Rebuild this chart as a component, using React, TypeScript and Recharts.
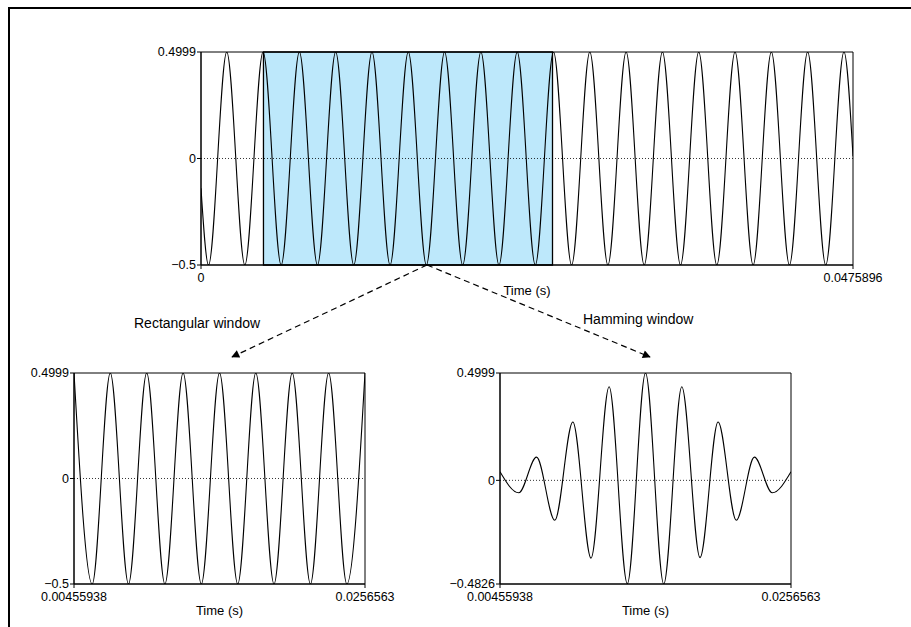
import React from 'react';
import { LineChart, Line, XAxis, YAxis, ReferenceArea, ReferenceLine } from 'recharts';

const FONT = '"Liberation Sans", Arial, Helvetica, sans-serif';

// full signal: start, every trough / peak, end
const fullTimes = [
  0, 0.00055, 0.00188, 0.0032, 0.00453, 0.00585, 0.00718, 0.0085, 0.00983, 0.01115,
  0.01248, 0.0138, 0.01513, 0.01645, 0.01778, 0.0191, 0.02043, 0.02175, 0.02308, 0.0244,
  0.02573, 0.02705, 0.02838, 0.0297, 0.03103, 0.03235, 0.03368, 0.035, 0.03633, 0.03765,
  0.03898, 0.0403, 0.04163, 0.04295, 0.04428, 0.0456, 0.04693, 0.0475896,
];
const fullValues = [
  -0.14, -0.5, 0.4999, -0.5, 0.4999, -0.5, 0.4999, -0.5, 0.4999, -0.5,
  0.4999, -0.5, 0.4999, -0.5, 0.4999, -0.5, 0.4999, -0.5, 0.4999, -0.5,
  0.4999, -0.5, 0.4999, -0.5, 0.4999, -0.5, 0.4999, -0.5, 0.4999, -0.5,
  0.4999, -0.5, 0.4999, -0.5, 0.4999, -0.5, 0.4999, 0.01,
];
const fullXTicks = [0, 0.0475896];
const fullYTicks = [-0.5, 0, 0.4999];

// selected window
const windowStart = 0.00455938;
const windowEnd = 0.0256563;
const windowXTicks = [windowStart, windowEnd];

// rectangular window
const rectTimes = [
  0.00455938, 0.00588, 0.00719, 0.00851, 0.00983, 0.01115, 0.01247, 0.01379, 0.01511,
  0.01643, 0.01774, 0.01906, 0.02038, 0.0217, 0.02302, 0.02434, 0.0256563,
];
const rectValues = [
  0.4999, -0.5, 0.4999, -0.5, 0.4999, -0.5, 0.4999, -0.5, 0.4999,
  -0.5, 0.4999, -0.5, 0.4999, -0.5, 0.4999, -0.5, 0.4999,
];
const rectYTicks = [-0.5, 0, 0.4999];

// hamming window
const hammTimes = [
  0.00455938, 0.00592, 0.00721, 0.00853, 0.00984, 0.01116, 0.01247, 0.01379, 0.01511,
  0.01643, 0.01774, 0.01906, 0.02037, 0.02169, 0.023, 0.0243, 0.0256563,
];
const hammValues = [
  0.04, -0.058, 0.108, -0.186, 0.272, -0.362, 0.436, -0.481, 0.4999,
  -0.4826, 0.436, -0.36, 0.272, -0.186, 0.108, -0.058, 0.04,
];
const hammYTicks = [-0.4826, 0, 0.4999];

const fmt = (v: number) => (v < 0 ? '\u2212' + Math.abs(v) : String(v));

interface Box {
  left: number;
  top: number;
  width: number;
  height: number;
  yAxisWidth: number;
  xAxisHeight: number;
  labelOffset: number;
  margin: { top: number; right: number; bottom: number; left: number };
}

interface PanelProps {
  times: number[];
  values: number[];
  xTicks: number[];
  yTicks: number[];
  box: Box;
  highlight?: [number, number];
}

function Panel({ times, values, xTicks, yTicks, box, highlight }: PanelProps) {
  const data = times.map((t, i) => ({ t, v: values[i] }));
  const x0 = xTicks[0];
  const x1 = xTicks[xTicks.length - 1];
  const y0 = yTicks[0];
  const y1 = yTicks[yTicks.length - 1];
  const tick = { fill: '#000', fontSize: 12.5, fontFamily: FONT };

  return (
    <div style={{ position: 'absolute', left: box.left, top: box.top }}>
      <LineChart width={box.width} height={box.height} data={data} margin={box.margin}>
        {highlight && (
          <ReferenceArea
            x1={highlight[0]}
            x2={highlight[1]}
            y1={y0}
            y2={y1}
            fill="#bde8fb"
            fillOpacity={1}
            stroke="#000"
            strokeWidth={1.3}
          />
        )}
        <ReferenceLine y={0} stroke="#000" strokeWidth={0.8} strokeDasharray="1 2" />
        <XAxis
          dataKey="t"
          type="number"
          domain={[x0, x1]}
          ticks={xTicks}
          interval={0}
          allowDataOverflow
          tickFormatter={fmt}
          tick={tick}
          tickSize={4}
          tickMargin={4}
          tickLine={{ stroke: '#000' }}
          axisLine={{ stroke: '#000' }}
          height={box.xAxisHeight}
          label={{
            value: 'Time (s)',
            position: 'insideBottom',
            offset: box.labelOffset,
            fill: '#000',
            fontSize: 13,
            fontFamily: FONT,
          }}
        />
        <YAxis
          type="number"
          domain={[y0, y1]}
          ticks={yTicks}
          interval={0}
          allowDataOverflow
          tickFormatter={fmt}
          tick={tick}
          tickSize={4}
          tickMargin={1}
          tickLine={{ stroke: '#000' }}
          axisLine={{ stroke: '#000' }}
          width={box.yAxisWidth}
        />
        <Line
          type="monotone"
          dataKey="v"
          stroke="#000"
          strokeWidth={1.1}
          dot={false}
          isAnimationActive={false}
        />
        <ReferenceArea x1={x0} x2={x1} y1={y0} y2={y1} fill="none" stroke="#000" strokeWidth={1} />
      </LineChart>
    </div>
  );
}

const topBox: Box = {
  left: 140, top: 40, width: 760, height: 270,
  yAxisWidth: 55, xAxisHeight: 40, labelOffset: 10,
  margin: { top: 12, right: 47, bottom: 5, left: 6 },
};
const leftBox: Box = {
  left: 20, top: 360, width: 390, height: 262,
  yAxisWidth: 44, xAxisHeight: 36, labelOffset: 5,
  margin: { top: 13, right: 45, bottom: 2, left: 10 },
};
const rightBox: Box = {
  left: 440, top: 360, width: 400, height: 262,
  yAxisWidth: 50, xAxisHeight: 36, labelOffset: 5,
  margin: { top: 13, right: 49, bottom: 2, left: 10 },
};

export default function App() {
  return (
    <div
      style={{
        position: 'absolute',
        left: 0,
        top: 0,
        width: 911,
        height: 627,
        background: '#fff',
        overflow: 'hidden',
        fontFamily: FONT,
      }}
    >
      <div
        style={{
          position: 'absolute',
          left: 8,
          top: 7,
          width: 903,
          height: 620,
          boxSizing: 'border-box',
          borderTop: '2px solid #000',
          borderLeft: '2px solid #000',
        }}
      />
      <Panel
        times={fullTimes}
        values={fullValues}
        xTicks={fullXTicks}
        yTicks={fullYTicks}
        box={topBox}
        highlight={[windowStart, windowEnd]}
      />
      <Panel times={rectTimes} values={rectValues} xTicks={windowXTicks} yTicks={rectYTicks} box={leftBox} />
      <Panel times={hammTimes} values={hammValues} xTicks={windowXTicks} yTicks={hammYTicks} box={rightBox} />

      <svg
        width={911}
        height={627}
        style={{ position: 'absolute', left: 0, top: 0, pointerEvents: 'none' }}
      >
        <defs>
          <marker id="head" viewBox="0 0 10 10" refX="9" refY="5" markerWidth="11" markerHeight="8" orient="auto" markerUnits="userSpaceOnUse">
            <path d="M0,0 L10,5 L0,10 z" fill="#000" />
          </marker>
        </defs>
        <line x1={427} y1={265} x2={232} y2={357} stroke="#000" strokeWidth={1.2} strokeDasharray="6 4" markerEnd="url(#head)" />
        <line x1={427} y1={265} x2={650} y2={357} stroke="#000" strokeWidth={1.2} strokeDasharray="6 4" markerEnd="url(#head)" />
        <text x={134} y={328} fontSize={14} fontFamily={FONT} fill="#000">Rectangular window</text>
        <text x={583} y={324} fontSize={14} fontFamily={FONT} fill="#000">Hamming window</text>
      </svg>
    </div>
  );
}
